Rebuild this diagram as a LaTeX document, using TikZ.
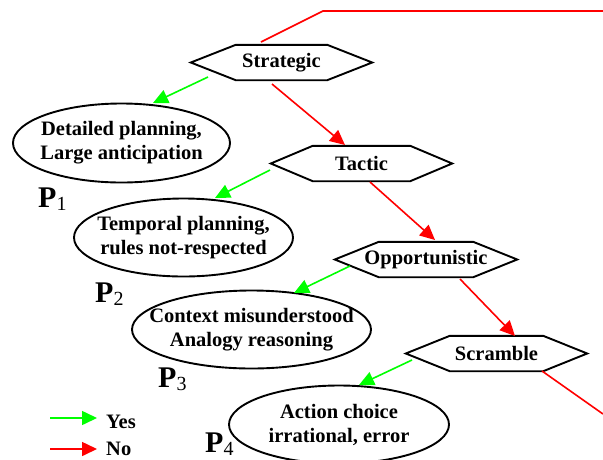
\documentclass[tikz,border=0pt]{standalone}
\usepackage{fontspec}
\setmainfont{Liberation Serif}
\usetikzlibrary{calc,arrows.meta}

\definecolor{yesgreen}{RGB}{0,255,0}
\definecolor{nored}{RGB}{255,0,0}

\tikzset{
  lbl/.style={font=\fontsize{20.5}{24}\selectfont\bfseries, align=center},
  hexbox/.style={lbl, minimum width=181pt, minimum height=35pt, inner sep=0pt},
  outline/.style={draw=black, line width=1.9pt, line join=miter},
  statebox/.style={lbl, inner sep=0pt},
  tip/.style={-{Triangle[length=15pt,width=14pt]}},
  yesarrow/.style={tip, draw=yesgreen, line width=1.6pt},
  noarrow/.style={tip, draw=nored, line width=1.6pt},
  noline/.style={draw=nored, line width=1.6pt},
  plabel/.style={anchor=base west, inner sep=0pt},
}

% hexagonal outline around a named decision node
\newcommand\hexframe[2]{%
  \draw[outline] (#1.west) -- ($(#1.north west)+(#2pt,0pt)$) -- ($(#1.north east)+(-#2pt,0pt)$)
    -- (#1.east) -- ($(#1.south east)+(-#2pt,0pt)$) -- ($(#1.south west)+(#2pt,0pt)$) -- cycle;}

% elliptic outline around a named behaviour node
\newcommand\ellframe[3]{%
  \draw[outline] (#1.center) ellipse [x radius=#2pt, y radius=#3pt];}

\newcommand\plev[1]{{\fontsize{30}{30}\selectfont\bfseries P}\raisebox{-3pt}{\fontsize{20}{20}\selectfont #1}}

\begin{document}
\begin{tikzpicture}[x=1pt,y=-1pt]
  \useasboundingbox (0,0) rectangle (603,459);

  % decision levels
  \node[hexbox] (strat) at (281.5,62.5) {Strategic};
  \node[hexbox] (tact)  at (361.5,163.5) {Tactic};
  \node[hexbox, minimum width=182pt] (opp) at (426,259.5) {Opportunistic};
  \node[hexbox] (scr)   at (496.5,353.5) {Scramble};
  \hexframe{strat}{45}
  \hexframe{tact}{42}
  \hexframe{opp}{44}
  \hexframe{scr}{44}

  % resulting behaviours
  \node[statebox] (e1) at (121.5,143) {Detailed planning,\\Large anticipation};
  \node[statebox] (e2) at (183.5,237.5) {Temporal planning,\\rules not-respected};
  \node[statebox] (e3) at (251.5,329.5) {Context misunderstood\\Analogy reasoning};
  \node[statebox] (e4) at (339,424.5) {Action choice\\irrational, error};
  \ellframe{e1}{108.5}{39.5}
  \ellframe{e2}{109.5}{39}
  \ellframe{e3}{119.5}{39}
  \ellframe{e4}{110}{39}

  % level labels
  \node[plabel] (p1) at (38,207) {\plev{1}};
  \node[plabel] (p2) at (95,302) {\plev{2}};
  \node[plabel] (p3) at (158,387) {\plev{3}};
  \node[plabel] (p4) at (205,452) {\plev{4}};

  % yes branches
  \draw[yesarrow] ($(strat)+(-73.5,14.5)$) -- ($(e1)+(31.5,-40)$);
  \draw[yesarrow] ($(tact)+(-91.5,6.5)$) -- ($(e2)+(31.5,-39.5)$);
  \draw[yesarrow] ($(opp)+(-76,6.5)$) -- ($(e3)+(42.5,-36.5)$);
  \draw[yesarrow] ($(scr)+(-84.5,6.5)$) -- ($(e4)+(20,-39.5)$);

  % no branches
  \draw[noarrow] ($(strat)+(-9.5,21.5)$) -- ($(tact)+(-16.5,-18.5)$);
  \draw[noarrow] ($(tact)+(8.5,18.5)$) -- ($(opp)+(9,-19.5)$);
  \draw[noarrow] ($(opp)+(34,19.5)$) -- ($(scr)+(18.5,-17.5)$);

  % loop-back line (entering at the top, leaving at the bottom)
  \coordinate (loopbend) at (323,11);
  \coordinate (loopend) at (603,11);
  \coordinate (exitend) at (603,414);
  \draw[noline] ($(strat)+(-20.5,-20.5)$) -- (loopbend) -- (loopend);
  \draw[noline] ($(scr)+(45.5,17.5)$) -- (exitend);

  % legend
  \coordinate (yesA) at (50,418);
  \coordinate (yesB) at (97,418);
  \coordinate (noA) at (50,449);
  \coordinate (noB) at (97,449);
  \draw[yesarrow] (yesA) -- (yesB);
  \draw[noarrow] (noA) -- (noB);
  \node[lbl, anchor=base west, inner sep=0pt] (yes) at (106,428) {Yes};
  \node[lbl, anchor=base west, inner sep=0pt] (no) at (106,455) {No};
\end{tikzpicture}
\end{document}
